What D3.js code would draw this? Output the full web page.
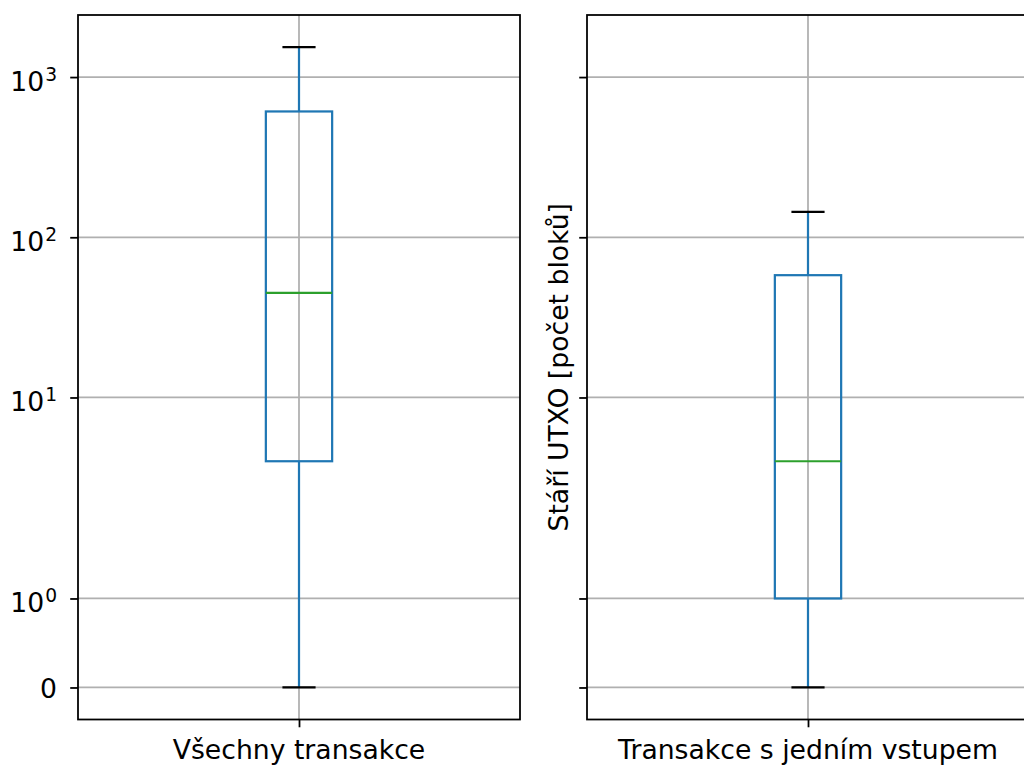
<!DOCTYPE html>
<html>
<head>
<meta charset="utf-8">
<script src="https://cdn.jsdelivr.net/npm/d3@7"></script>
<style>
  body { margin: 0; background: #fff; }
  svg { display: block; }
  text { font-family: "DejaVu Sans", sans-serif; fill: #000; }
</style>
</head>
<body>
<svg id="chart" width="1024" height="765"></svg>
<script>
// Box-plot statistics per group (UTXO age in blocks)
const categories = ["Všechny transakce", "Transakce s jedním vstupem"];
const whiskerLow = [0, 0];
const q1 = [4, 1];
const median = [45, 4];
const q3 = [610, 58];
const whiskerHigh = [1540, 144];

// Y axis ticks: value, mantissa text, exponent text
const tickValues = [0, 1, 10, 100, 1000];
const tickBase = ["0", "10", "10", "10", "10"];
const tickExp = [null, "0", "1", "2", "3"];
const yLabel = "Stáří UTXO [počet bloků]";

// Symmetric log transform (linear below the threshold, log10 above)
const LINTHRESH = 2;
const LINSCALE_ADJ = 1 / (1 - 1 / 10);
function symlog(v) {
  const a = Math.abs(v);
  if (a <= LINTHRESH) return v * LINSCALE_ADJ;
  return Math.sign(v) * LINTHRESH * (LINSCALE_ADJ + Math.log10(a / LINTHRESH));
}

const PT = 160 / 72;               // pixels per point
const FONT = 12 * PT;
const axTop = 15, axBottom = 719.5, axWidth = 442;
const panelLeft = [78, 587];

const svg = d3.select("#chart");

// Shared y scale in transformed space with 5% margins
const hi = symlog(d3.max(whiskerHigh));
const lo = symlog(d3.min(whiskerLow));
const pad = (hi - lo) * 0.05;
const y = d3.scaleLinear().domain([lo - pad, hi + pad]).range([axBottom, axTop]);
const yv = v => y(symlog(v));

categories.forEach((cat, i) => {
  const left = panelLeft[i];
  const x = d3.scaleLinear().domain([0.5, 1.5]).range([left, left + axWidth]);
  const g = svg.append("g");

  // grid
  g.append("g").selectAll("line").data(tickValues).join("line")
    .attr("x1", left).attr("x2", left + axWidth)
    .attr("y1", d => yv(d)).attr("y2", d => yv(d))
    .attr("stroke", "#b0b0b0").attr("stroke-width", 0.8 * PT);
  g.append("line")
    .attr("x1", x(1)).attr("x2", x(1)).attr("y1", axTop).attr("y2", axBottom)
    .attr("stroke", "#b0b0b0").attr("stroke-width", 0.8 * PT);

  // box plot
  const bw = 0.15, cw = 0.075, lw = 1 * PT;
  const box = g.append("g").attr("fill", "none").attr("stroke-width", lw);
  box.append("line").attr("x1", x(1)).attr("x2", x(1))
    .attr("y1", yv(q1[i])).attr("y2", yv(whiskerLow[i])).attr("stroke", "#1f77b4");
  box.append("line").attr("x1", x(1)).attr("x2", x(1))
    .attr("y1", yv(q3[i])).attr("y2", yv(whiskerHigh[i])).attr("stroke", "#1f77b4");
  box.append("rect")
    .attr("x", x(1 - bw / 2)).attr("width", x(1 + bw / 2) - x(1 - bw / 2))
    .attr("y", yv(q3[i])).attr("height", yv(q1[i]) - yv(q3[i]))
    .attr("stroke", "#1f77b4");
  [whiskerLow[i], whiskerHigh[i]].forEach(v => {
    box.append("line").attr("x1", x(1 - cw / 2)).attr("x2", x(1 + cw / 2))
      .attr("y1", yv(v)).attr("y2", yv(v)).attr("stroke", "#000");
  });
  box.append("line").attr("x1", x(1 - bw / 2)).attr("x2", x(1 + bw / 2))
    .attr("y1", yv(median[i])).attr("y2", yv(median[i])).attr("stroke", "#2ca02c");

  // y axis ticks
  const yAxis = d3.axisLeft(y)
    .tickValues(tickValues.map(symlog))
    .tickSizeInner(3.5 * PT).tickSizeOuter(0).tickPadding(3.5 * PT)
    .tickFormat("");
  const ya = g.append("g").attr("transform", `translate(${left},0)`).call(yAxis);
  ya.select(".domain").remove();
  ya.selectAll(".tick line").attr("stroke", "#000").attr("stroke-width", 0.8 * PT);
  ya.selectAll(".tick text").remove();
  if (i === 0) {
    ya.selectAll(".tick").each(function (d, k) {
      const t = d3.select(this).append("text")
        .attr("x", -21).attr("y", tickExp[k] ? 13 : 10)
        .attr("text-anchor", "end").attr("font-size", FONT);
      t.append("tspan").text(tickBase[k]);
      if (tickExp[k]) {
        t.append("tspan").attr("dy", -10).attr("dx", 1)
          .attr("font-size", FONT * 0.7).text(tickExp[k]);
      }
    });
  }

  // x axis tick
  const xAxis = d3.axisBottom(x).tickValues([1]).tickFormat("")
    .tickSizeInner(3.5 * PT).tickSizeOuter(0);
  const xa = g.append("g").attr("transform", `translate(0,${axBottom})`).call(xAxis);
  xa.select(".domain").remove();
  xa.selectAll(".tick line").attr("stroke", "#000").attr("stroke-width", 0.8 * PT);
  xa.selectAll(".tick text").remove();
  g.append("text").attr("x", x(1)).attr("y", 759)
    .attr("text-anchor", "middle").attr("font-size", FONT).text(cat);

  // spines
  g.append("rect").attr("x", left).attr("y", axTop)
    .attr("width", axWidth).attr("height", axBottom - axTop)
    .attr("fill", "none").attr("stroke", "#000").attr("stroke-width", 0.8 * PT);

  if (i === 1) {
    g.append("text")
      .attr("transform", `translate(568,${(axTop + axBottom) / 2}) rotate(-90)`)
      .attr("text-anchor", "middle").attr("font-size", FONT).text(yLabel);
  }
});
</script>
</body>
</html>
